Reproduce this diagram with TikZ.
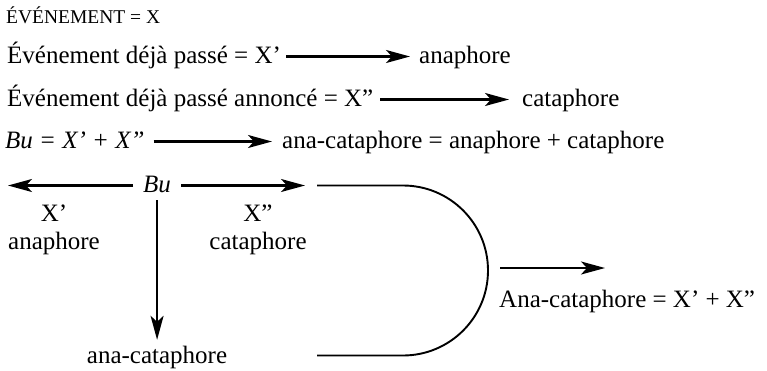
\documentclass[tikz,border=0pt]{standalone}
\usepackage{fontspec}
\setmainfont{Liberation Serif}
\usetikzlibrary{arrows.meta}
\begin{document}
\begin{tikzpicture}[x=1pt,y=-1pt,
  txt/.style={inner sep=0pt, text height=13pt, text depth=0pt, anchor=base west,
              font=\fontsize{25}{30}\selectfont},
  ctxt/.style={txt, anchor=base},
  small/.style={inner sep=0pt, anchor=base west, font=\fontsize{19.5}{24}\selectfont},
  arr/.style={line width=2.2pt, -{Stealth[length=24pt, width=13pt, inset=6pt]}},
  plain/.style={line width=1.9pt}]
\useasboundingbox (0,0) rectangle (767,370);
% row 1
\node[small] (r1) at (6,23) {ÉVÉNEMENT = X};
% row 2
\node[txt] (r2) at (7,63) {Événement déjà passé = X’};
\node[txt] (ana) at (419,63) {anaphore};
\draw[arr, shorten <=5pt, shorten >=9pt] (r2.east) -- (ana.west);
% row 3
\node[txt] (r3) at (7,106) {Événement déjà passé annoncé = X”};
\node[txt] (cata) at (522,106) {cataphore};
\draw[arr, shorten <=7pt, shorten >=13pt] (r3.east) -- (cata.west);
% row 4
\node[txt] (r4) at (5,148) {\itshape Bu = X’ + X”};
\node[txt] (anacata) at (282,148) {ana-cataphore = anaphore + cataphore};
\draw[arr, shorten <=9pt, shorten >=10pt] (r4.east) -- (anacata.west);
% row 5
\node[txt] (bu) at (143,192) {\itshape Bu};
\coordinate (lt) at (8,185.5);
\coordinate (rt) at (305,185.5);
\draw[arr, shorten <=10pt] (bu.west) -- (lt);
\draw[arr, shorten <=10pt] (bu.east) -- (rt);
\node[ctxt] (xa) at (54,221) {X’};
\node[ctxt] (anal) at (54,249) {anaphore};
\node[ctxt] (xc) at (258,221) {X”};
\node[ctxt] (catal) at (258,249) {cataphore};
\node[ctxt] (acat) at (157,363) {ana-cataphore};
\draw[arr, shorten <=8pt, shorten >=10pt] (bu.south) -- (bu.south |- acat.north);
% bracket
\coordinate (b1) at (317,185.5);
\coordinate (b2) at (317,355.5);
\draw[plain] (b1) -- (403,185.5) arc[start angle=-90, end angle=90, radius=85] -- (b2);
% final arrow
\coordinate (f1) at (500,268);
\coordinate (f2) at (605,268);
\draw[arr] (f1) -- (f2);
\node[txt] (res) at (499,307) {Ana-cataphore = X’ + X”};
\end{tikzpicture}
\end{document}
